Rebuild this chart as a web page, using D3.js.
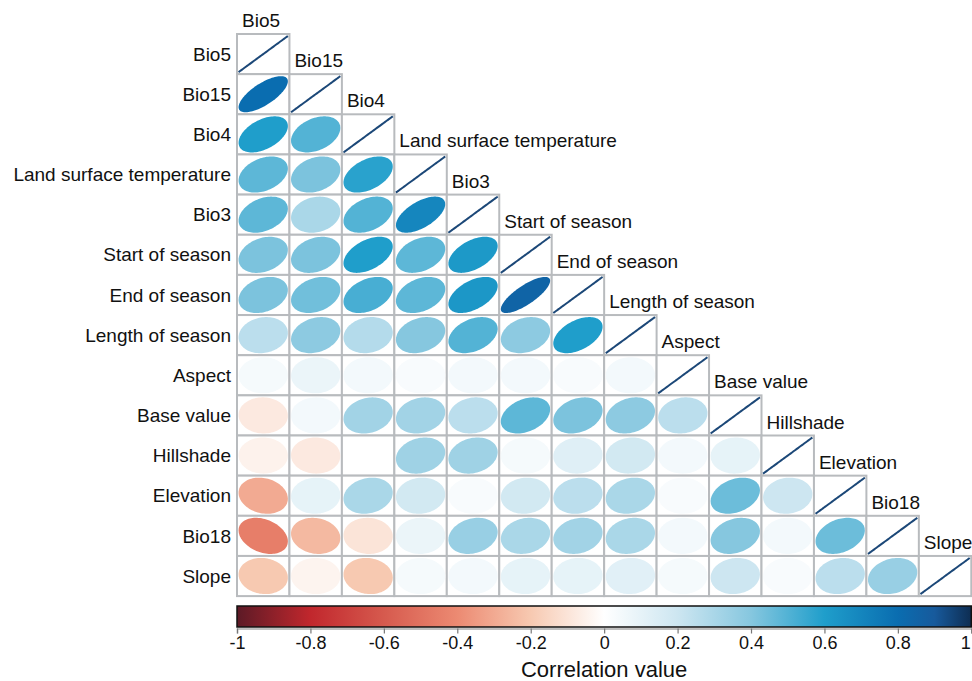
<!DOCTYPE html>
<html>
<head>
<meta charset="utf-8">
<script src="https://cdn.jsdelivr.net/npm/d3@7"></script>
<style>
  body { margin: 0; background: #fff; }
  text { font-family: "Liberation Sans", Arial, sans-serif; fill: #111; }
</style>
</head>
<body>
<svg id="chart"></svg>
<script>
// variable names, in matrix order
const varNames = ["Bio5", "Bio15", "Bio4", "Land surface temperature", "Bio3",
  "Start of season", "End of season", "Length of season", "Aspect", "Base value",
  "Hillshade", "Elevation", "Bio18", "Slope"];

// lower triangle of the correlation matrix, row i holds columns 0..i-1 (null = blank cell)
const corrRows = [
  [],
  [0.80],
  [0.60, 0.50],
  [0.48, 0.42, 0.58],
  [0.48, 0.30, 0.50, 0.70],
  [0.42, 0.42, 0.60, 0.48, 0.62],
  [0.42, 0.44, 0.52, 0.48, 0.63, 0.85],
  [0.25, 0.38, 0.27, 0.40, 0.50, 0.38, 0.60],
  [0.04, 0.08, 0.05, 0.03, 0.05, 0.05, 0.03, 0.05],
  [-0.08, 0.05, 0.32, 0.32, 0.25, 0.48, 0.42, 0.38, 0.25],
  [-0.05, -0.08, null, 0.33, 0.33, 0.04, 0.13, 0.18, 0.05, 0.10],
  [-0.30, 0.10, 0.30, 0.18, 0.03, 0.18, 0.25, 0.30, 0.03, 0.45, 0.20],
  [-0.45, -0.25, -0.10, 0.08, 0.35, 0.30, 0.32, 0.30, 0.05, 0.40, 0.05, 0.45],
  [-0.20, -0.04, -0.20, 0.04, 0.05, 0.10, 0.10, 0.12, 0.04, 0.20, 0.03, 0.25, 0.35]
];

// colour ramp stops
const colorStops = [-1, -0.8, -0.6, -0.4, -0.2, 0, 0.2, 0.4, 0.6, 0.8, 0.9, 1];
const colorValues = ["#5c1a26", "#c1272d", "#d65a4e", "#ec8a72", "#f7c9b1", "#ffffff",
  "#cde6f1", "#86c7df", "#1f9ecb", "#0a6db0", "#175a9c", "#0e2d52"];

const legendTicks = [-1, -0.8, -0.6, -0.4, -0.2, 0, 0.2, 0.4, 0.6, 0.8, 1];

const W = 972, H = 681;
const gridX = 237, gridY = 34;
const cellW = 52.45, cellH = 40.15;
const n = varNames.length;

const svg = d3.select("#chart").attr("width", W).attr("height", H);

const color = d3.scaleLinear().domain(colorStops).range(colorValues).clamp(true);

const x = d3.scaleLinear().domain([0, n]).range([gridX, gridX + n * cellW]);
const y = d3.scaleLinear().domain([0, n]).range([gridY, gridY + n * cellH]);

// flatten into cells
let cells = [];
corrRows.forEach(function(row, i){
  row.forEach(function(v, j){ cells.push({i: i, j: j, r: v}); });
  cells.push({i: i, j: i, r: 1});
});

// ellipse outline for a correlation value (corrplot style), a bit rounder
function ellipsePath(d){
  const cx = x(d.j + 0.5), cy = y(d.i + 0.5);
  const rx = cellW * 0.47, ry = cellH * 0.45;
  const rho = Math.sign(d.r) * Math.pow(Math.abs(d.r), 1.5);
  const a = Math.acos(Math.max(-1, Math.min(1, rho)));
  let pts = d3.range(0, 100).map(function(k){
    const t = k / 99 * 2 * Math.PI;
    return [cx + rx * Math.cos(t + a / 2), cy - ry * Math.cos(t - a / 2)];
  });
  return d3.line()(pts) + "Z";
}

const g = svg.append("g");

g.selectAll(".cell")
  .data(cells)
  .enter()
  .append("rect")
  .attr("class", "cell")
  .attr("x", d => x(d.j))
  .attr("y", d => y(d.i))
  .attr("width", cellW)
  .attr("height", cellH)
  .attr("fill", "#fff")
  .attr("stroke", "#b8bbbe")
  .attr("stroke-width", 2);

g.selectAll(".ell")
  .data(cells.filter(d => d.r !== null && d.i !== d.j))
  .enter()
  .append("path")
  .attr("class", "ell")
  .attr("d", ellipsePath)
  .attr("fill", d => color(d.r));

// diagonal r = 1 drawn as a line
g.selectAll(".diag")
  .data(cells.filter(d => d.i === d.j))
  .enter()
  .append("path")
  .attr("class", "diag")
  .attr("d", ellipsePath)
  .attr("fill", "none")
  .attr("stroke", "#1c4878")
  .attr("stroke-width", 2);

// row labels
g.selectAll(".rowlab")
  .data(varNames)
  .enter()
  .append("text")
  .attr("class", "rowlab")
  .attr("x", gridX - 6)
  .attr("y", (d, i) => y(i + 0.5))
  .attr("dy", "0.35em")
  .attr("text-anchor", "end")
  .attr("font-size", 19)
  .text(d => d);

// column labels above the diagonal
g.selectAll(".collab")
  .data(varNames)
  .enter()
  .append("text")
  .attr("class", "collab")
  .attr("x", (d, i) => x(i) + 5)
  .attr("y", (d, i) => y(i) - 7)
  .attr("font-size", 19)
  .text(d => d);

// colour legend
const legY = 606, legH = 21;
const lx = d3.scaleLinear().domain([-1, 1]).range([gridX, gridX + n * cellW]);

const defs = svg.append("defs");
const grad = defs.append("linearGradient").attr("id", "corrGrad")
  .attr("x1", "0%").attr("x2", "100%").attr("y1", "0%").attr("y2", "0%");
grad.selectAll("stop")
  .data(colorStops)
  .enter()
  .append("stop")
  .attr("offset", d => ((d + 1) / 2 * 100) + "%")
  .attr("stop-color", d => color(d));

svg.append("rect")
  .attr("x", lx(-1))
  .attr("y", legY)
  .attr("width", lx(1) - lx(-1))
  .attr("height", legH)
  .attr("fill", "url(#corrGrad)")
  .attr("stroke", "#111")
  .attr("stroke-width", 1.5);

const axis = d3.axisBottom(lx)
  .tickValues(legendTicks)
  .tickSize(5)
  .tickPadding(3)
  .tickFormat(d => String(d));

const ax = svg.append("g")
  .attr("transform", `translate(0,${legY + legH + 1.5})`)
  .call(axis);
ax.select(".domain").attr("stroke", "#aaa").attr("stroke-width", 1.5);
ax.selectAll(".tick line").attr("stroke", "#777").attr("stroke-width", 1.2);
ax.selectAll(".tick text")
  .attr("font-size", 18)
  .attr("font-family", "'Liberation Sans', Arial, sans-serif")
  .attr("fill", "#111");
// keep the last label inside the page
ax.selectAll(".tick text").filter(d => d === 1)
  .attr("text-anchor", "end")
  .attr("x", -1);

svg.append("text")
  .attr("x", lx(0))
  .attr("y", 677)
  .attr("text-anchor", "middle")
  .attr("font-size", 22)
  .text("Correlation value");
</script>
</body>
</html>
